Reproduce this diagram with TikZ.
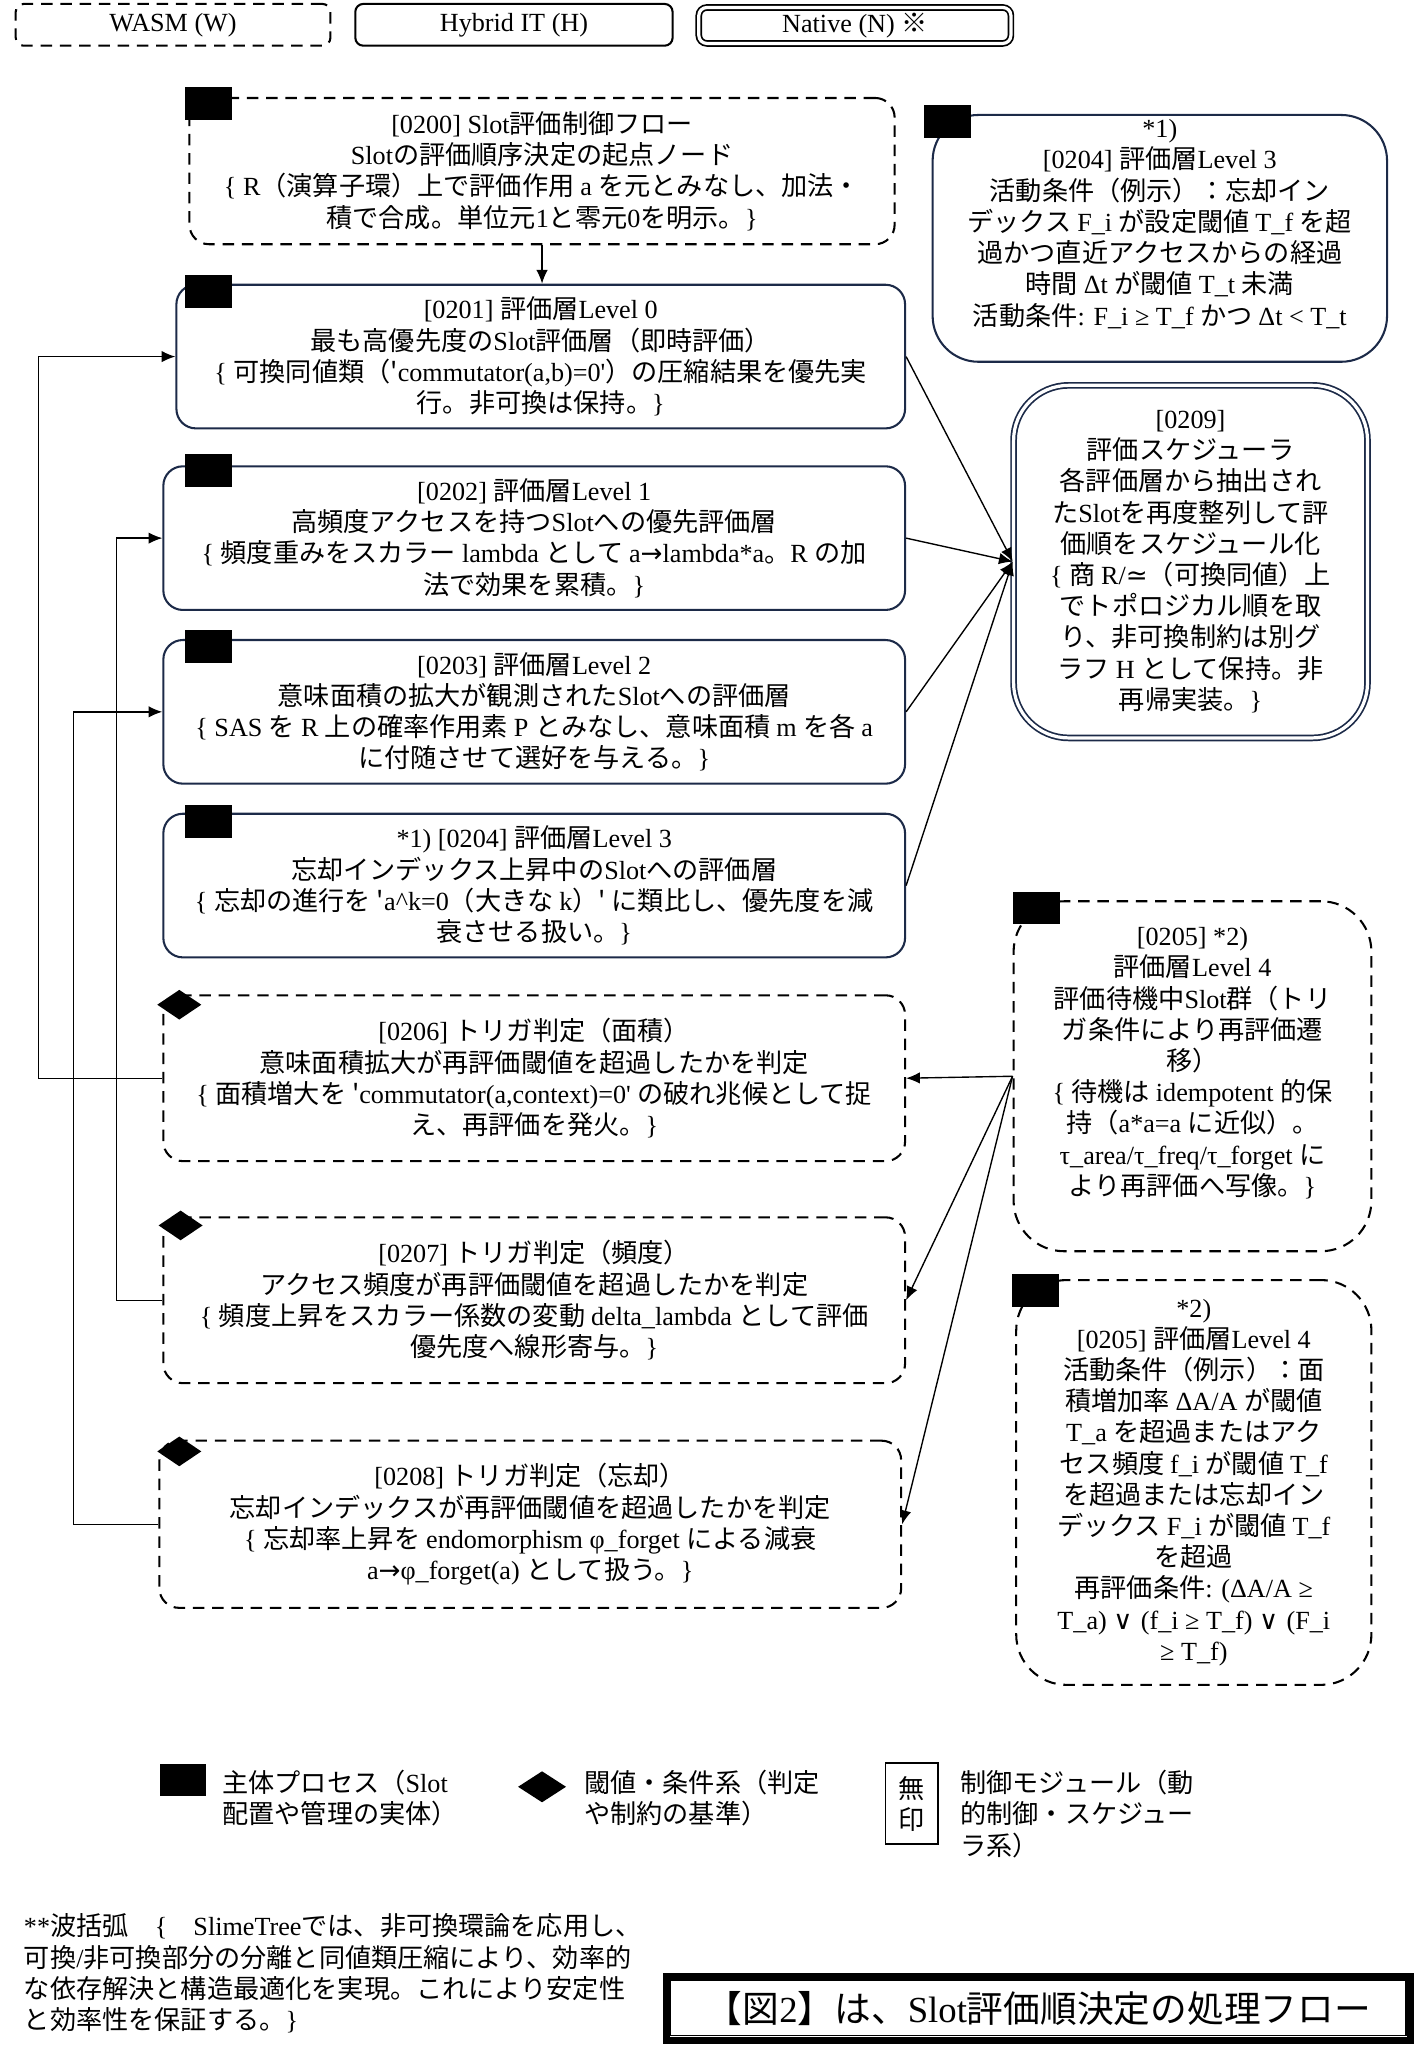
\documentclass[tikz,border=0pt]{standalone}
\usepackage{fontspec}
\setmainfont{Liberation Serif}
\newfontfamily\cjk{Noto Sans CJK JP}
\newfontfamily\symf{DejaVu Sans}
\usetikzlibrary{arrows.meta,shapes.geometric,calc}
\definecolor{navyline}{RGB}{28,42,72}
\newcommand\bodyfont{\fontsize{11.4}{13.6}\selectfont}
\newcommand\capfont{\fontsize{16}{19}\selectfont}

% Japanese / symbol font switching
\newcount\chcode
\newcommand\setclassrange[3]{\chcode=#1\relax
  \loop\XeTeXcharclass\chcode=#3\relax
  \ifnum\chcode<#2\relax\advance\chcode by 1\repeat}
\newXeTeXintercharclass\jpclass
\newXeTeXintercharclass\syclass
\setclassrange{"0021}{"007E}{0}
\setclassrange{"0370}{"03FF}{0}
\setclassrange{"2000}{"22FF}{0}
\setclassrange{"3000}{"30FF}{\jpclass}
\setclassrange{"4E00}{"9FFF}{\jpclass}
\setclassrange{"FF00}{"FFEF}{\jpclass}
\XeTeXcharclass"203B=\jpclass
\XeTeXcharclass"2192=\syclass
\XeTeXcharclass"2228=\syclass
\XeTeXcharclass"2243=\syclass
\XeTeXinterchartoks 0 \jpclass = {\cjk}
\XeTeXinterchartoks 4095 \jpclass = {\cjk}
\XeTeXinterchartoks \syclass \jpclass = {\cjk}
\XeTeXinterchartoks 0 \syclass = {\symf}
\XeTeXinterchartoks 4095 \syclass = {\symf}
\XeTeXinterchartoks \jpclass \syclass = {\symf}
\XeTeXinterchartoks \jpclass 0 = {\rmfamily}
\XeTeXinterchartoks \syclass 0 = {\rmfamily}
\XeTeXinterchartoks 4095 0 = {\rmfamily}
\XeTeXinterchartokenstate=1

\begin{document}
\begin{tikzpicture}[x=0.02cm, y=-0.02cm,
	>={Latex[length=6pt,width=5pt]},
	box/.style={align=center, font=\bodyfont, inner sep=2pt, line width=0.9pt, rounded corners=8.5pt},
	wasmbox/.style={box, draw=black, dash pattern=on 5pt off 3.4pt},
	hybridbox/.style={box, draw=navyline},
	nativebox/.style={box, draw=navyline, double, double distance=1.4pt, line width=0.75pt},
	procmark/.style={fill=black, minimum width=0.72cm, minimum height=0.5cm, inner sep=0pt, anchor=north west},
	condmark/.style={diamond, fill=black, minimum width=0.68cm, minimum height=0.46cm, inner sep=0pt},
	keytext/.style={anchor=north west, align=left, font=\bodyfont, inner sep=0pt},
	link/.style={->, line width=0.6pt}]
		\useasboundingbox (0,0) rectangle (1086,1568);
		
		% Draw runtime kinds
		\node[wasmbox, rounded corners=3.5pt, minimum width=4.82cm, minimum height=0.64cm] (kindW) at (132.5,19) {WASM (W)};
		\node[hybridbox, draw=black, rounded corners=3.5pt, minimum width=4.86cm, minimum height=0.64cm] (kindH) at (393.5,19) {Hybrid IT (H)};
		\node[nativebox, draw=black, rounded corners=3.5pt, minimum width=4.78cm, minimum height=0.55cm] (kindN) at (654.5,19.5) {Native (N) ※};
		
		% Draw start node
		\node[wasmbox, minimum width=10.8cm, minimum height=2.24cm] (n0200) at (415,131) {[0200] Slot評価制御フロー\\Slotの評価順序決定の起点ノード\\\{ R（演算子環）上で評価作用 a を元とみなし、加法・\\積で合成。単位元1と零元0を明示。\}};
		
		% Draw evaluation layers
		\node[hybridbox, minimum width=11.16cm, minimum height=2.2cm] (n0201) at (414,273) {[0201] 評価層Level 0\\最も高優先度のSlot評価層（即時評価）\\\{ 可換同値類（\textquotesingle commutator(a,b)=0\textquotesingle）の圧縮結果を優先実\\行。非可換は保持。\}};
		\node[hybridbox, minimum width=11.36cm, minimum height=2.2cm] (n0202) at (409,412) {[0202] 評価層Level 1\\高頻度アクセスを持つSlotへの優先評価層\\\{ 頻度重みをスカラー lambda として a→lambda*a。R の加\\法で効果を累積。\}};
		\node[hybridbox, minimum width=11.36cm, minimum height=2.2cm] (n0203) at (409,545) {[0203] 評価層Level 2\\意味面積の拡大が観測されたSlotへの評価層\\\{ SAS を R 上の確率作用素 P とみなし、意味面積 m を各 a\\に付随させて選好を与える。\}};
		\node[hybridbox, minimum width=11.36cm, minimum height=2.2cm] (n0204) at (409,678) {*1) [0204] 評価層Level 3\\忘却インデックス上昇中のSlotへの評価層\\\{ 忘却の進行を \textquotesingle a\textasciicircum k=0（大きな k）\textquotesingle\ に類比し、優先度を減\\衰させる扱い。\}};
		
		% Draw trigger checks
		\node[wasmbox, minimum width=11.36cm, minimum height=2.54cm] (n0206) at (409,825.5) {[0206] トリガ判定（面積）\\意味面積拡大が再評価閾値を超過したかを判定\\\{ 面積増大を \textquotesingle commutator(a,context)=0\textquotesingle\ の破れ兆候として捉\\え、再評価を発火。\}};
		\node[wasmbox, minimum width=11.36cm, minimum height=2.54cm] (n0207) at (409,995.5) {[0207] トリガ判定（頻度）\\アクセス頻度が再評価閾値を超過したかを判定\\\{ 頻度上昇をスカラー係数の変動 delta\_lambda として評価\\優先度へ線形寄与。\}};
		\node[wasmbox, minimum width=11.36cm, minimum height=2.56cm] (n0208) at (406,1167) {[0208] トリガ判定（忘却）\\忘却インデックスが再評価閾値を超過したかを判定\\\{ 忘却率上昇を endomorphism φ\_forget による減衰\\a→φ\_forget(a) として扱う。\}};
		
		% Draw right column
		\node[hybridbox, rounded corners=20pt, minimum width=6.96cm, minimum height=3.78cm, text depth=14pt] (n0204a) at (888,182.5) {*1)\\{}[0204] 評価層Level 3\\活動条件（例示）：忘却イン\\デックス F\_i が設定閾値 T\_f を超\\過かつ直近アクセスからの経過\\時間 Δt が閾値 T\_t 未満\\活動条件: F\_i ≥ T\_f かつ Δt < T\_t};
		\node[nativebox, rounded corners=24pt, minimum width=5.42cm, minimum height=5.4cm] (n0209) at (911.5,430) {[0209]\\評価スケジューラ\\各評価層から抽出され\\たSlotを再度整列して評\\価順をスケジュール化\\\{ 商 R/≃（可換同値）上\\でトポロジカル順を取\\り、非可換制約は別グ\\ラフ H として保持。非\\再帰実装。\}};
		\node[wasmbox, rounded corners=22pt, minimum width=5.48cm, minimum height=5.36cm, text depth=13pt] (n0205a) at (913,824) {[0205] *2)\\評価層Level 4\\評価待機中Slot群（トリ\\ガ条件により再評価遷\\移）\\\{ 待機は idempotent 的保\\持（a*a=a に近似）。\\τ\_area/τ\_freq/τ\_forget に\\より再評価へ写像。\}};
		\node[wasmbox, rounded corners=22pt, minimum width=5.44cm, minimum height=6.2cm] (n0205b) at (914,1135) {*2)\\{}[0205] 評価層Level 4\\活動条件（例示）：面\\積増加率 ΔA/A が閾値\\T\_a を超過またはアク\\セス頻度 f\_i が閾値 T\_f\\を超過または忘却イン\\デックス F\_i が閾値 T\_f\\を超過\\再評価条件: (ΔA/A ≥\\T\_a) ∨ (f\_i ≥ T\_f) ∨ (F\_i\\≥ T\_f)};
		
		% Draw process marks
		\node[procmark] (p0200) at ($(n0200.north west)+(-3,-8)$) {};
		\node[procmark] (p0201) at ($(n0201.north west)+(7,-7)$) {};
		\node[procmark] (p0202) at ($(n0202.north west)+(17,-9)$) {};
		\node[procmark] (p0203) at ($(n0203.north west)+(17,-7)$) {};
		\node[procmark] (p0204) at ($(n0204.north west)+(17,-6)$) {};
		\node[procmark] (p0204a) at ($(n0204a.north west)+(-6,-7)$) {};
		\node[procmark] (p0205a) at ($(n0205a.north west)+(0,-7)$) {};
		\node[procmark] (p0205b) at ($(n0205b.north west)+(-3,-4)$) {};
		
		% Draw condition marks
		\node[condmark] (c0206) at ($(n0206.north west)+(13,8)$) {};
		\node[condmark] (c0207) at ($(n0207.north west)+(14,7)$) {};
		\node[condmark] (c0208) at ($(n0208.north west)+(16,9)$) {};
		
		% Draw flow lines
		\draw[link] (n0200.south) -- (n0200.south |- n0201.north);
		\draw[link] (n0201.east) -- (n0209.west);
		\draw[link] (n0202.east) -- (n0209.west);
		\draw[link] (n0203.east) -- (n0209.west);
		\draw[link] (n0204.east) -- (n0209.west);
		
		% Draw waiting group to triggers
		\draw[link] (n0205a.west) -- (n0206.east);
		\draw[link] (n0205a.west) -- (n0207.east);
		\draw[link] (n0205a.west) -- (n0208.east);
		
		% Draw feedback lines
		\draw[link] (n0206.west) -- ++(-95,0) |- (n0201.west);
		\draw[link] (n0207.west) -- ++(-35,0) |- (n0202.west);
		\draw[link] (n0208.west) -- ++(-65,0) |- (n0203.west);
		
		% Draw key
		\node[procmark, minimum width=0.7cm] (keyP) at (122,1350) {};
		\node[keytext] (keyPt) at (170,1355) {主体プロセス（Slot\\配置や管理の実体）};
		\node[condmark, minimum width=0.74cm, minimum height=0.48cm] (keyC) at (415,1368) {};
		\node[keytext] (keyCt) at (447,1355) {閾値・条件系（判定\\や制約の基準）};
		\node[draw=black, line width=0.7pt, minimum width=0.8cm, minimum height=1.24cm, align=center, font=\bodyfont, inner sep=0pt] (keyM) at (698,1381) {無\\印};
		\node[keytext] (keyMt) at (735,1355) {制御モジュール（動\\的制御・スケジュー\\ラ系）};
		
		% Draw note and caption
		\node[keytext] (note) at (18,1465) {**波括弧　\{　SlimeTreeでは、非可換環論を応用し、\\可換/非可換部分の分離と同値類圧縮により、効率的\\な依存解決と構造最適化を実現。これにより安定性\\と効率性を保証する。\}};
		\node[draw=black, line width=3pt, minimum width=11.4cm, minimum height=0.98cm, font=\capfont] (caption) at (795,1537.5) {【図2】は、Slot評価順決定の処理フロー};
		\draw[line width=0.6pt] ($(caption.north west)+(6,6)$) rectangle ($(caption.south east)+(-6,-6)$);
\end{tikzpicture}
\end{document}
